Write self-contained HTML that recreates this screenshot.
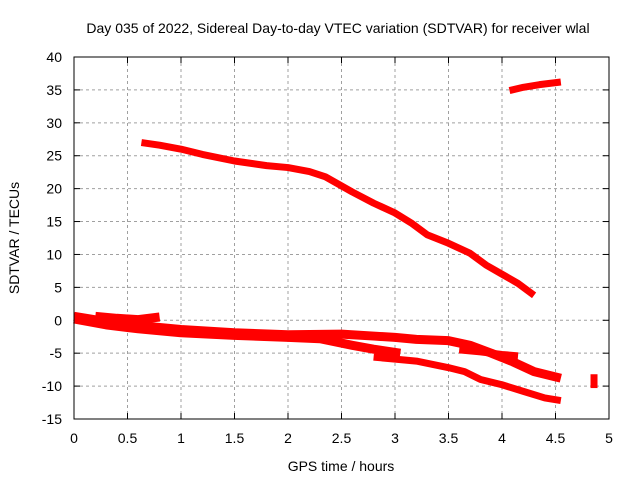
<!DOCTYPE html>
<html><head><meta charset="utf-8"><style>
body{margin:0;background:#fff}
svg{display:block;font-family:"Liberation Sans",sans-serif}
</style></head><body>
<svg id="c" width="640" height="480">
<rect width="640" height="480" fill="#fff"/>
<text x="338" y="33" font-size="14" text-anchor="middle">Day 035 of 2022, Sidereal Day-to-day VTEC variation (SDTVAR) for receiver wlal</text>
<text x="341" y="471" font-size="14" text-anchor="middle">GPS time / hours</text>
<text transform="translate(19,238) rotate(-90)" font-size="14" text-anchor="middle">SDTVAR / TECUs</text>
<g id="grid"></g><g id="series"></g>
<rect x="74" y="57" width="535" height="362" fill="none" stroke="#000" stroke-width="1"/>
</svg>
<script>
const xTicks=[0,0.5,1,1.5,2,2.5,3,3.5,4,4.5,5];
const yTicks=[-15,-10,-5,0,5,10,15,20,25,30,35,40];
const seriesTop=[[0.63,27],[0.8,26.6],[1.0,26],[1.2,25.2],[1.5,24.2],[1.8,23.5],[2.0,23.2],[2.2,22.6],[2.35,21.8],[2.6,19.5],[2.8,17.8],[3.0,16.3],[3.15,14.8],[3.3,13],[3.5,11.7],[3.7,10.2],[3.85,8.4],[4.0,7],[4.15,5.6],[4.3,3.8]];
const seriesHigh=[[4.07,34.9],[4.2,35.4],[4.35,35.8],[4.55,36.2]];
const seriesBand1=[[0,0.6],[0.3,-0.2],[0.6,-0.8],[1.0,-1.4],[1.5,-1.9],[2.0,-2.2],[2.5,-2.1],[2.8,-2.4],[3.0,-2.6],[3.2,-2.9],[3.5,-3.1],[3.7,-3.8],[3.9,-5],[4.1,-6.3],[4.3,-7.8],[4.55,-8.8]];
const seriesBand2=[[0,0.2],[0.3,-0.7],[0.6,-1.3],[1.0,-1.9],[1.5,-2.3],[2.0,-2.6],[2.3,-2.8],[2.6,-3.8],[2.8,-4.4],[3.05,-5]];
const seriesBand3=[[0.2,0.6],[0.4,0.3],[0.6,0.1],[0.8,0.5]];
const seriesLow=[[2.8,-5.6],[3.0,-5.9],[3.2,-6.2],[3.5,-7.2],[3.65,-7.8],[3.8,-9],[4.0,-9.8],[4.2,-10.8],[4.4,-11.8],[4.55,-12.2]];
const seriesMid=[[3.6,-4.5],[3.8,-4.8],[4.0,-5.2],[4.15,-5.4]];
const seriesEnd=[[4.86,-8.2],[4.86,-10.3]];
const X=v=>74+v*107, Y=v=>57+(40-v)*362/55;
const NS="http://www.w3.org/2000/svg";
const g=document.getElementById('grid'), s=document.getElementById('series');
function mk(t,a,p){const e=document.createElementNS(NS,t);for(const k in a)e.setAttribute(k,a[k]);p.appendChild(e);return e;}
xTicks.forEach(v=>{
  if(v>0&&v<5){const l=mk('line',{x1:X(v),x2:X(v),y1:57,y2:419,stroke:'#a0a0a0','stroke-dasharray':'3,3'},g);
  
  }
  mk('line',{x1:X(v),x2:X(v),y1:419,y2:413,stroke:'#000'},g);
  mk('line',{x1:X(v),x2:X(v),y1:57,y2:63,stroke:'#000'},g);
  const t=mk('text',{x:X(v),y:443,'font-size':14,'text-anchor':'middle'},g);t.textContent=v;
  
  
});
yTicks.forEach(v=>{
  if(v>-15&&v<40){const l=mk('line',{x1:74,x2:609,y1:Y(v),y2:Y(v),stroke:'#a0a0a0','stroke-dasharray':'3,3'},g);
  
  }
  mk('line',{x1:74,x2:80,y1:Y(v),y2:Y(v),stroke:'#000'},g);
  mk('line',{x1:603,x2:609,y1:Y(v),y2:Y(v),stroke:'#000'},g);
  const t=mk('text',{x:62,y:Y(v)+5,'font-size':14,'text-anchor':'end'},g);t.textContent=v;
  
  
});
[[seriesTop,'series-top',7],[seriesHigh,'series-high',7],[seriesBand1,'series-band-1',9],[seriesBand2,'series-band-2',9],[seriesBand3,'series-band-3',9],[seriesLow,'series-low',7],[seriesMid,'series-mid',7],[seriesEnd,'series-end',7]].forEach(([d,n,w])=>{
  const p=mk('polyline',{points:d.map(q=>X(q[0])+','+Y(q[1])).join(' '),fill:'none',stroke:'#f00','stroke-width':w,'stroke-linejoin':'round'},s);
  
  
});
</script>
</body></html>
